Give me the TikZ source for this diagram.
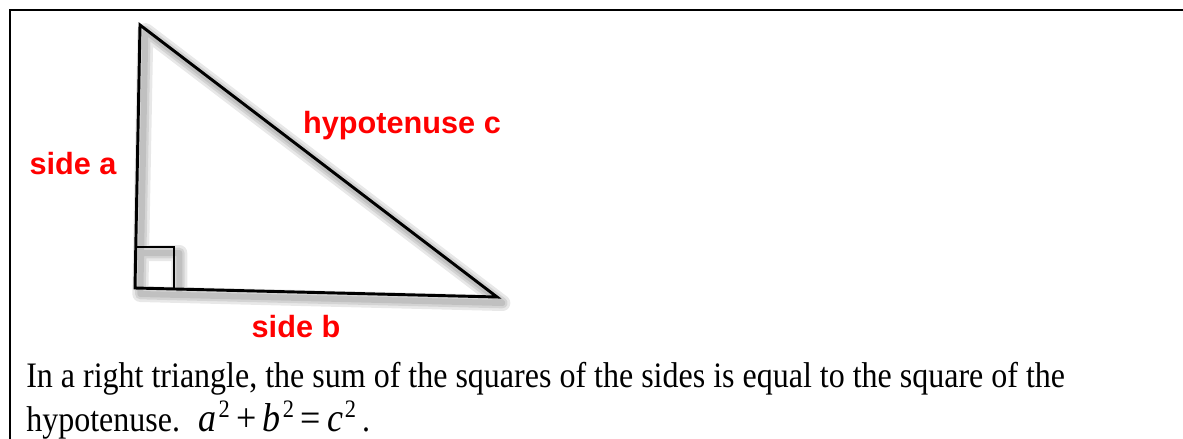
\documentclass[tikz,border=0pt]{standalone}
\usepackage{fontspec}
\setmainfont{Liberation Serif}
\newfontfamily\labelfont{Liberation Sans}
\usetikzlibrary{calc}

\newcommand{\eqsym}[1]{{\fontsize{27}{30}\selectfont\itshape #1}\hspace{1.5pt}\textsuperscript{2}}
\newcommand{\eqop}[1]{\hspace{4.5pt}{\fontsize{27}{30}\selectfont #1}\hspace{4.5pt}}

\begin{document}
\begin{tikzpicture}[
    x=0.75pt, y=-0.75pt,
    frame/.style={line width=1.5pt},
    edge/.style={line width=2.2pt, line join=miter},
    blur/.style={line width=#1, black, opacity=0.09, line join=round},
    sidelabel/.style={anchor=base, inner sep=0pt, text=red, font=\labelfont\bfseries\fontsize{23}{26}\selectfont},
    bodytext/.style={anchor=base west, inner sep=0pt, font=\fontsize{24}{28}\selectfont}
  ]
  \useasboundingbox (0,0) rectangle (1183,439);

  % cell border
  \draw[frame] (10,439) -- (10,10) -- (1183,10);

  % corners of the triangle
  \coordinate (top) at (140,25);
  \coordinate (corner) at (135,288);
  \coordinate (right) at (497,297);

  % soft shadow
  \begin{scope}[transform canvas={xshift=4pt, yshift=-4.5pt}]
    \foreach \w in {12pt, 8pt, 4.5pt}
      \draw[blur=\w] (top) -- (corner) -- (right) -- cycle
                     (corner) ++(0,-41) -- ++(39,0) -- ++(0,41);
  \end{scope}

  % triangle and right angle mark
  \draw[edge] (top) -- (corner) -- (right) -- cycle;
  \draw[edge] ($(corner)+(0,-41)$) -- ++(39,0) -- ++(0,41);

  \node[sidelabel] (sidea) at (73,174) {side a};
  \node[sidelabel] (hyp) at (402,133) {hypotenuse c};
  \node[sidelabel] (sideb) at (296,337) {side b};

  \node[bodytext] (line1) at (26,387) {\scalebox{1}[1.12]{In a right triangle, the sum of the squares of the sides is equal to the square of the}};
  \node[bodytext] (line2) at (26,431) {\scalebox{1}[1.12]{hypotenuse.\hspace{14pt}\eqsym{a}\eqop{+}\eqsym{b}\eqop{=}\eqsym{c}\hspace{4pt}.}};
\end{tikzpicture}
\end{document}
